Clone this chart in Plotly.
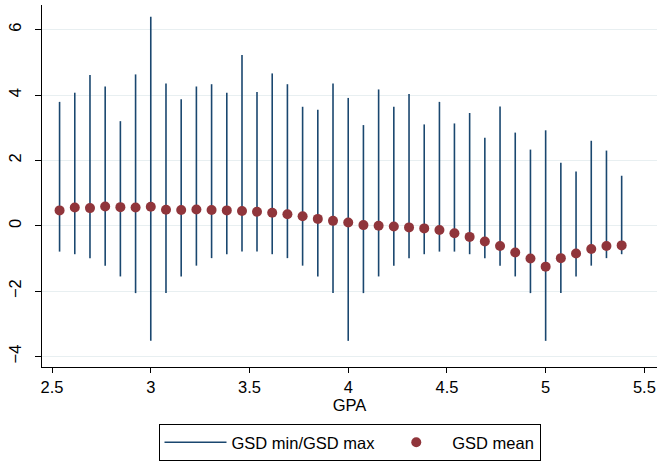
import plotly.graph_objects as go

gpa = [2.538, 2.615, 2.692, 2.769, 2.846, 2.923, 3.000, 3.077, 3.154, 3.231,
       3.308, 3.385, 3.462, 3.538, 3.615, 3.692, 3.769, 3.846, 3.923, 4.000,
       4.077, 4.154, 4.231, 4.308, 4.385, 4.462, 4.538, 4.615, 4.692, 4.769,
       4.846, 4.923, 5.000, 5.077, 5.154, 5.231, 5.308, 5.385]
gsd_max = [3.79, 4.07, 4.61, 4.26, 3.20, 4.63, 6.39, 4.35, 3.87, 4.26,
           4.33, 4.07, 5.22, 4.09, 4.66, 4.33, 3.64, 3.55, 4.35, 3.91,
           3.08, 4.17, 3.64, 4.03, 3.10, 3.79, 3.13, 3.45, 2.69, 3.65,
           2.85, 2.33, 2.92, 1.93, 1.66, 2.60, 2.30, 1.53]
gsd_min = [-0.79, -0.87, -0.99, -1.22, -1.55, -2.06, -3.52, -2.06, -1.55, -1.22,
           -0.99, -0.87, -0.79, -0.79, -0.87, -0.99, -1.22, -1.55, -2.06, -3.52,
           -2.06, -1.55, -1.22, -0.99, -0.87, -0.79, -0.79, -0.87, -0.99, -1.22,
           -1.55, -2.06, -3.52, -2.06, -1.55, -1.22, -0.99, -0.87]
gsd_mean = [0.47, 0.56, 0.54, 0.59, 0.57, 0.56, 0.58, 0.49, 0.48, 0.50,
            0.48, 0.47, 0.45, 0.43, 0.40, 0.35, 0.29, 0.21, 0.15, 0.10,
            0.02, 0.00, -0.02, -0.05, -0.08, -0.13, -0.23, -0.34, -0.48, -0.62,
            -0.82, -1.00, -1.25, -0.99, -0.85, -0.71, -0.62, -0.60]
y_ticks = [-4, -2, 0, 2, 4, 6]
x_ticks = [2.5, 3, 3.5, 4, 4.5, 5, 5.5]

# build spike segments from data
seg_x, seg_y = [], []
for x, lo, hi in zip(gpa, gsd_min, gsd_max):
    seg_x += [x, x, None]
    seg_y += [lo, hi, None]

NAVY = "#1a476f"
MAROON = "#90353b"
FONT = "Liberation Sans, Arial, sans-serif"
FS = 16.5

fig = go.Figure()
fig.add_trace(go.Scatter(x=seg_x, y=seg_y, mode="lines", name="GSD min/GSD max",
                         line=dict(color=NAVY, width=1.6), hoverinfo="skip"))
fig.add_trace(go.Scatter(x=gpa, y=gsd_mean, mode="markers", name="GSD mean",
                         marker=dict(color=MAROON, size=10, line=dict(width=0))))

fig.update_layout(
    width=657, height=461,
    margin=dict(l=42, r=0, t=5, b=89),
    paper_bgcolor="white", plot_bgcolor="white",
    font=dict(family=FONT, size=FS, color="black"),
    showlegend=True,
    legend=dict(orientation="h", x=0.5, xanchor="center", y=-0.158, yanchor="top",
                bordercolor="black", borderwidth=1, font=dict(size=FS),
                itemwidth=62, bgcolor="white"),
)
fig.update_xaxes(range=[2.449, 5.564], tickvals=x_ticks,
                 ticktext=[str(t) for t in x_ticks],
                 showgrid=False, zeroline=False, automargin=False,
                 showline=True, linecolor="black", linewidth=1,
                 ticks="outside", ticklen=5, tickcolor="black",
                 title=dict(text="GPA", standoff=4, font=dict(size=FS)))
fig.update_yaxes(range=[-4.32, 6.753], tickvals=y_ticks,
                 showgrid=True, gridcolor="#e8eff1", gridwidth=1,
                 zeroline=False, automargin=False,
                 showline=True, linecolor="black", linewidth=1,
                 ticks="outside", ticklen=6, tickcolor="black",
                 tickangle=-90, ticklabelstandoff=7)

fig.write_html("out.html", config={"displayModeBar": False},
               post_script="document.body.style.margin='0';")
